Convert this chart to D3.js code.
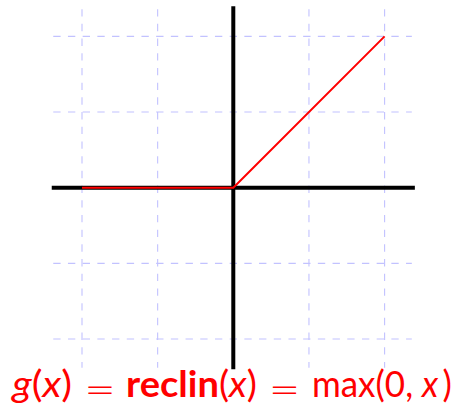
<!DOCTYPE html>
<html>
<head>
<meta charset="utf-8">
<script src="https://cdn.jsdelivr.net/npm/d3@7"></script>
<style>
  html, body { margin: 0; padding: 0; background: #fff; }
  svg { display: block; }
</style>
</head>
<body>
<div id="chart"></div>
<script>
// grid positions (data units)
const gridTicks = [-2, -1, 0, 1, 2];
const gridExtent = [-2.38, 2.36];
const axisExtent = [-2.4, 2.4];

// reclin curve
const curveX = [-2, 0, 2];
const curveY = [0, 0, 2];

// formula pieces, each a list of [text, style]
const labelPieces = [
  [["g", "italic"], ["(", "normal"], ["x", "italic"], [")", "normal"]],
  [["=", "normal"]],
  [["reclin", "bold"], ["(", "normal"], ["x", "italic"], [")", "normal"]],
  [["=", "normal"]],
  [["max(0, ", "normal"], ["x", "italic"], ["\u2009)", "normal"]]
];

const params = { width: 460, height: 407, cx: 233.3, cy: 187.7, unit: 75.65 };
// where each formula piece sits: [left, width]
const pieceBoxes = [[10, 62], [87, 26], [126, 131], [272, 25], [312, 140]];

const svg = d3.select("#chart")
  .append("svg")
  .attr("width", params.width)
  .attr("height", params.height);

const xScale = d3.scaleLinear()
  .domain([-1, 1])
  .range([params.cx - params.unit, params.cx + params.unit]);
const yScale = d3.scaleLinear()
  .domain([-1, 1])
  .range([params.cy + params.unit, params.cy - params.unit]);

// dashed grid
const grid = svg.append("g")
  .attr("stroke", "#c2c2ff")
  .attr("stroke-width", 1.1)
  .attr("stroke-dasharray", "7.35,7.35");

grid.selectAll(".vgrid")
  .data(gridTicks)
  .join("line")
  .attr("class", "vgrid")
  .attr("x1", d => xScale(d)).attr("x2", d => xScale(d))
  .attr("y1", yScale(gridExtent[1])).attr("y2", yScale(gridExtent[0]));

grid.selectAll(".hgrid")
  .data(gridTicks)
  .join("line")
  .attr("class", "hgrid")
  .attr("y1", d => yScale(d)).attr("y2", d => yScale(d))
  .attr("x1", xScale(gridExtent[0])).attr("x2", xScale(gridExtent[1]));

// axes
const axes = svg.append("g")
  .attr("stroke", "#000")
  .attr("stroke-width", 4);
axes.append("line")
  .attr("x1", xScale(axisExtent[0])).attr("x2", xScale(axisExtent[1]))
  .attr("y1", yScale(0)).attr("y2", yScale(0));
axes.append("line")
  .attr("x1", xScale(0)).attr("x2", xScale(0))
  .attr("y1", yScale(axisExtent[1])).attr("y2", yScale(axisExtent[0]));

// the curve
const pts = curveX.map((x, i) => [x, curveY[i]]);
svg.append("path")
  .attr("d", d3.line().x(d => xScale(d[0])).y(d => yScale(d[1]))(pts))
  .attr("fill", "none")
  .attr("stroke", "#ff0000")
  .attr("stroke-width", 2);

// formula label
const label = svg.append("g")
  .attr("fill", "#ff0000")
  .attr("font-family", "Lato, 'Open Sans', sans-serif")
  .attr("font-size", 37);

labelPieces.forEach((piece, i) => {
  const isEq = piece.length == 1 && piece[0][0] == "=";
  if (isEq) {
    // wide, thin math equals sign
    label.append("text")
      .attr("x", pieceBoxes[i][0] + pieceBoxes[i][1] / 2)
      .attr("y", 402)
      .attr("text-anchor", "middle")
      .attr("font-family", "'DejaVu Sans', sans-serif")
      .attr("font-weight", 200)
      .attr("font-size", 37)
      .text(piece[0][0]);
    return;
  }
  const t = label.append("text")
    .attr("x", 0)
    .attr("y", 0)
    .attr("xml:space", "preserve")
    .style("white-space", "pre");
  t.selectAll("tspan")
    .data(piece)
    .join("tspan")
    .attr("font-style", d => d[1] == "italic" ? "italic" : "normal")
    .attr("font-weight", d => d[1] == "bold" ? "bold" : null)
    .text(d => d[0]);
  // fit the piece horizontally into its box
  const bb = t.node().getBBox();
  const sx = pieceBoxes[i][1] / bb.width;
  const left = pieceBoxes[i][0] - bb.x * sx;
  t.attr("transform", `translate(${left},397) scale(${sx},1)`);
});
</script>
</body>
</html>
